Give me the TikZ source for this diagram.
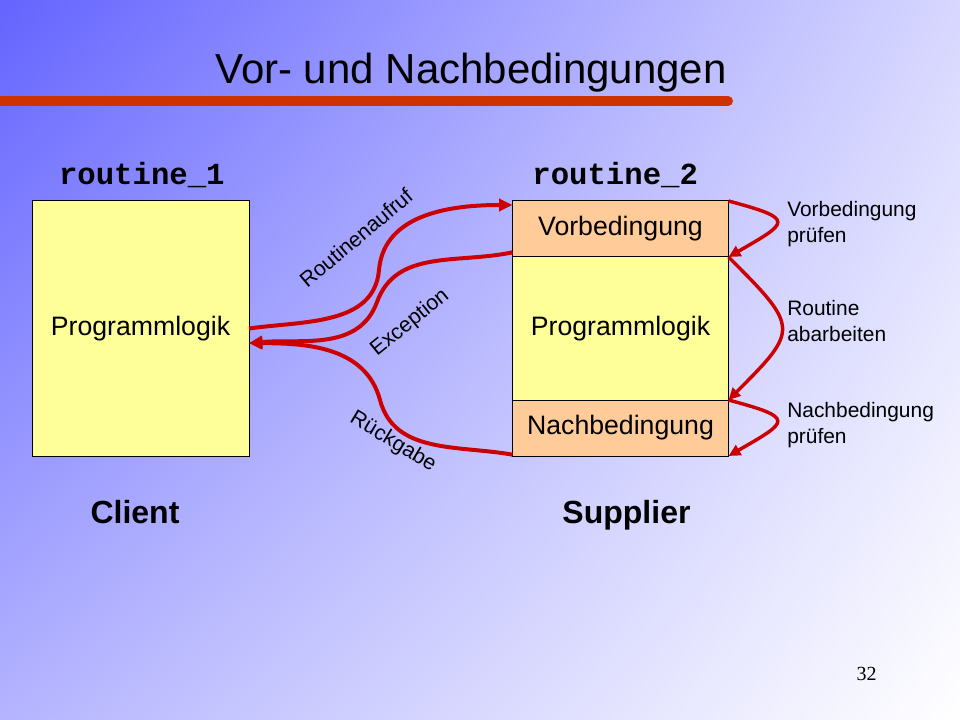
\documentclass[tikz,border=0pt]{standalone}
\usepackage{fontspec}
\setmainfont{Liberation Sans}
\setmonofont{Liberation Mono}
\newfontfamily\pagefont{Liberation Serif}
\usetikzlibrary{positioning,arrows.meta,shadings}

\definecolor{boxyellow}{HTML}{FFFF99}
\definecolor{boxorange}{HTML}{FFCC99}
\definecolor{flowred}{HTML}{CC0000}
\definecolor{barred}{HTML}{CC3300}
\definecolor{bgtl}{RGB}{100,100,255}
\definecolor{bgtr}{RGB}{215,215,255}
\definecolor{bgbl}{RGB}{180,180,255}

\begin{document}
\begin{tikzpicture}[
      x=0.75pt, y=0.75pt,
      box/.style={draw, line width=0.75pt, outer sep=0pt, minimum width=162pt,
                  font=\fontsize{20}{24}\selectfont},
      flow/.style={draw=flowred, line width=3pt, -{Triangle[length=10pt,width=9pt]}},
      check/.style={draw=flowred, line width=2.6pt, -{Triangle[length=9pt,width=8.5pt]}},
      rname/.style={anchor=base, font=\fontsize{23}{26}\selectfont\ttfamily\bfseries},
      role/.style={anchor=base, font=\fontsize{24}{28}\selectfont\bfseries},
      sidelabel/.style={anchor=base west, align=left, inner sep=0pt,
                        font=\fontsize{15.7}{19.5}\selectfont},
      arclabel/.style={font=\fontsize{16}{19}\selectfont}
    ]

    \useasboundingbox (0,0) rectangle (960,-720);
    \shade[upper left=bgtl, upper right=bgtr, lower left=bgbl, lower right=white]
        (0,0) rectangle (960,-720);

    % title
    \node (title) [anchor=base, font=\fontsize{31.5}{36}\selectfont] at (471,-83.3) {Vor- und Nachbedingungen};
    \draw[barred, line width=7.5pt, line cap=round] (-10,-101) -- (728,-101);

    % client
    \node (prog1) [box, fill=boxyellow, minimum width=162.75pt, minimum height=191.25pt] at (140.5,-328.5) {Programmlogik};
    \node (r1) [rname] at ([xshift=1pt,yshift=12pt]prog1.north) {routine\_1};
    \node (client) [role] at (135,-523) {Client};

    % supplier
    \node (vor) [box, fill=boxorange, minimum height=42pt] at (620.5,-229) {Vorbedingung};
    \node (prog2) [box, fill=boxyellow, minimum height=107.25pt, below=0pt of vor] {Programmlogik};
    \node (nach) [box, fill=boxorange, minimum height=42pt, below=0pt of prog2] {Nachbedingung};
    \node (r2) [rname] at ([xshift=-4pt,yshift=12pt]vor.north) {routine\_2};
    \node (supplier) [role] at (626.5,-523) {Supplier};

    % call, exception, return
    \coordinate (bendA) at (379,-270);
    \coordinate (bendB) at (377,-302);
    \coordinate (bendC) at (380,-400);
    \coordinate (back) at ([yshift=-11pt]prog1.east);
    \draw[flow] (prog1.east) to[out=8,in=-95] (bendA) to[out=85,in=180] ([yshift=-3pt]vor.north west);
    \draw[flow] ([yshift=3.5pt]vor.south west) to[out=192,in=70] (bendB) to[out=-110,in=5] (back);
    \draw[flow] ([yshift=1pt]nach.south west) to[out=170,in=-75] (bendC) to[out=105,in=0] (back);

    \node (call) [arclabel, rotate=40] at (356,-238) {Routinenaufruf};
    \node (exc) [arclabel, rotate=39] at (410,-323) {Exception};
    \node (ret) [arclabel, rotate=-31] at (393,-442) {Rückgabe};

    % checks on the right
    \draw[check] (vor.north east) .. controls +(-15:70) and +(30:70) .. (vor.south east);
    \draw[check] (prog2.north east) .. controls +(-45:100) and +(45:100) .. (prog2.south east);
    \draw[check] (nach.north east) .. controls +(-15:70) and +(30:70) .. (nach.south east);

    \node (lblvor) [sidelabel] at (787,-243) {Vorbedingung\\prüfen};
    \node (lblrun) [sidelabel] at (787,-341.7) {Routine\\abarbeiten};
    \node (lblnach) [sidelabel] at (787,-443) {Nachbedingung\\prüfen};

    \node (pagenum) [anchor=base, font=\pagefont\fontsize{15}{17}\selectfont] at (866.5,-680) {32};

\end{tikzpicture}
\end{document}
